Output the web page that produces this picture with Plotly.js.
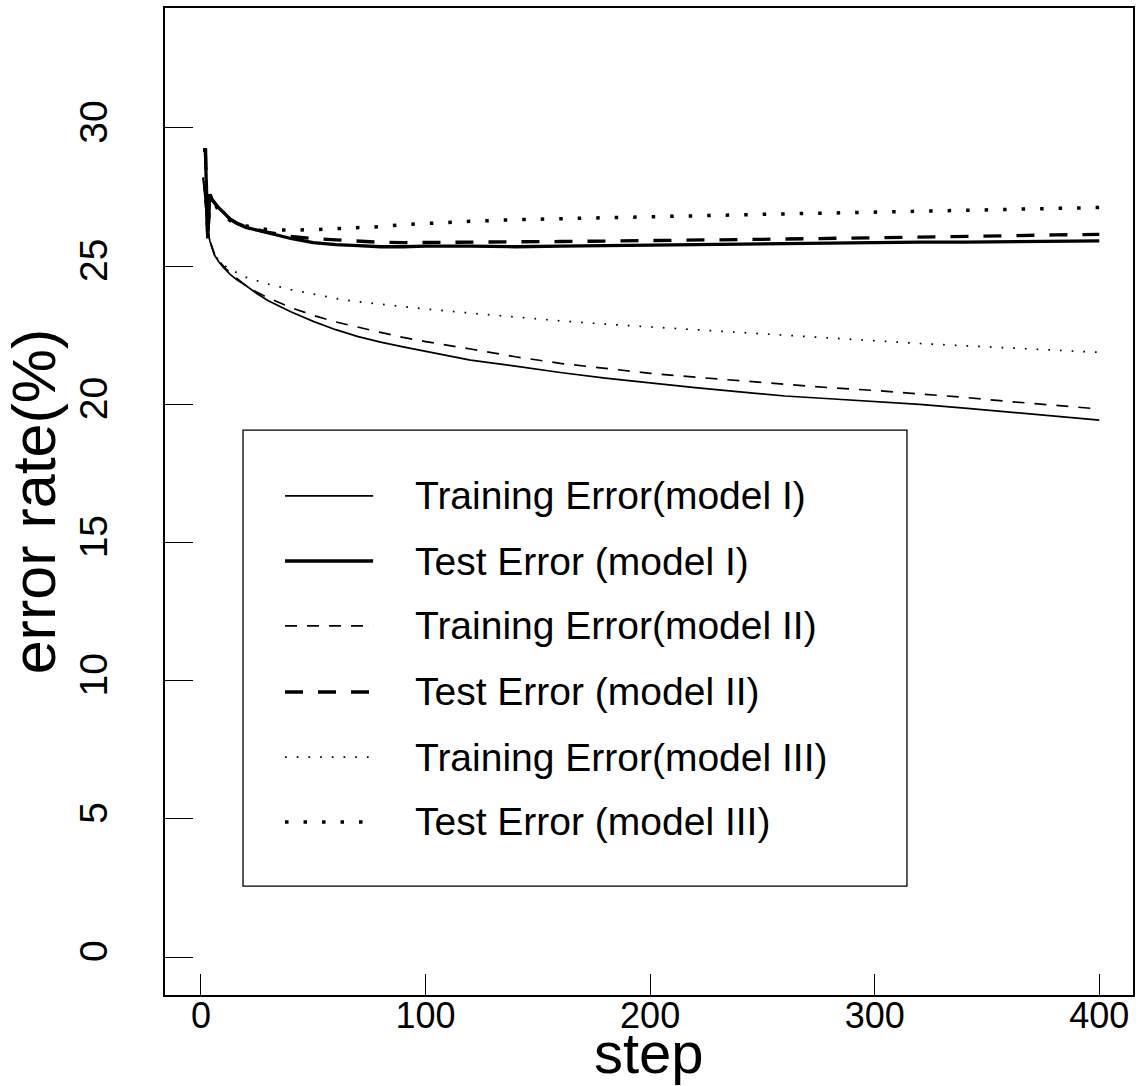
<!DOCTYPE html>
<html>
<head>
<meta charset="utf-8">
<script src="https://cdn.plot.ly/plotly-3.0.1.min.js"></script>
<style>
html,body{margin:0;padding:0;background:#fff;}
#chart{width:1147px;height:1086px;}
</style>
</head>
<body>
<div id="chart"></div>
<script>
// ---- data ----
var steps = [1,2,3,4,5,6,8,10,13,16,20,25,30,40,50,60,70,80,90,100,120,140,160,180,200,220,240,260,280,300,320,340,360,380,400];

var trainI = [28.2,27.2,26.3,25.9,25.6,25.4,25.15,24.95,24.7,24.5,24.3,24.0,23.75,23.35,23.0,22.7,22.45,22.25,22.08,21.92,21.6,21.38,21.15,20.95,20.77,20.6,20.45,20.3,20.2,20.1,20.0,19.86,19.72,19.57,19.43];
var testI = [29.2,29.2,26.0,27.6,27.4,27.3,27.1,26.95,26.7,26.55,26.4,26.3,26.2,26.0,25.85,25.78,25.74,25.7,25.7,25.72,25.72,25.7,25.72,25.74,25.77,25.78,25.8,25.82,25.85,25.86,25.87,25.87,25.88,25.9,25.91];
var trainII = [28.2,27.2,26.3,25.9,25.65,25.45,25.2,25.0,24.75,24.55,24.3,24.05,23.85,23.5,23.22,22.98,22.78,22.6,22.42,22.27,22.0,21.72,21.48,21.3,21.12,20.98,20.85,20.72,20.6,20.5,20.38,20.25,20.1,19.97,19.83];
var testII = [29.2,29.2,26.0,27.6,27.4,27.3,27.05,26.9,26.7,26.55,26.42,26.32,26.22,26.08,26.0,25.95,25.9,25.86,25.85,25.85,25.86,25.88,25.89,25.9,25.92,25.94,25.96,25.98,26.0,26.02,26.05,26.08,26.1,26.13,26.15];
var trainIII = [28.2,27.2,26.3,25.9,25.65,25.45,25.2,25.05,24.88,24.75,24.6,24.47,24.35,24.15,23.98,23.83,23.71,23.62,23.53,23.45,23.3,23.15,23.02,22.9,22.8,22.7,22.6,22.48,22.38,22.3,22.2,22.12,22.04,21.96,21.88];
var testIII = [29.2,29.2,26.0,27.6,27.4,27.25,27.0,26.85,26.65,26.52,26.45,26.38,26.32,26.3,26.32,26.35,26.38,26.43,26.5,26.55,26.62,26.68,26.72,26.76,26.8,26.83,26.86,26.89,26.92,26.95,26.98,27.01,27.05,27.08,27.12];

var seriesNames = ["Training Error(model I)","Test Error (model I)","Training Error(model II)","Test Error (model II)","Training Error(model III)","Test Error (model III)"];
var xTicks = [0,100,200,300,400];
var yTicks = [0,5,10,15,20,25,30];
var xTitle = "step";
var yTitle = "error rate(%)";

// ---- styles ----
var styles = [
  {width:1.7, dash:"solid"},
  {width:3.3, dash:"solid"},
  {width:1.7, dash:"12px,10px"},
  {width:3.3, dash:"18px,15px"},
  {width:1.7, dash:"1.7px,10px"},
  {width:3.5, dash:"3.5px,15px"}
];
var seriesY = [trainI, testI, trainII, testII, trainIII, testIII];

var traces = seriesY.map(function(ys, i){
  return {
    x: steps, y: ys, name: seriesNames[i], type: "scatter", mode: "lines",
    line: {color: "#000", width: styles[i].width, dash: styles[i].dash},
    showlegend: false, hoverinfo: "skip"
  };
});

// ---- manual R-style legend (paper coordinates) ----
var FONT = "Liberation Sans, Arial, Helvetica, sans-serif";
var legRowsY = [0.5056,0.4397,0.3739,0.3070,0.2411,0.1753];
var shapes = [{
  type:"rect", xref:"paper", yref:"paper",
  x0:0.0806, x1:0.7665, y0:0.1104, y1:0.5724,
  line:{color:"#000", width:1.3}, fillcolor:"rgba(0,0,0,0)"
}];
var annotations = [];
legRowsY.forEach(function(yy, i){
  shapes.push({
    type:"line", xref:"paper", yref:"paper",
    x0:0.124, x1:0.215, y0:yy, y1:yy,
    line:{color:"#000", width:styles[i].width, dash:styles[i].dash}
  });
  annotations.push({
    xref:"paper", yref:"paper", x:0.2565, y:yy,
    xanchor:"left", yanchor:"middle", showarrow:false,
    text: seriesNames[i],
    font:{family:FONT, size:39, color:"#000"}
  });
});
// x-axis title placed like R's mtext under the tick labels
annotations.push({
  xref:"paper", yref:"paper", x:0.5, y:0, xanchor:"center", yanchor:"bottom",
  yshift:-92, showarrow:false, text:xTitle,
  font:{family:FONT, size:58, color:"#000"}
});

var layout = {
  width:1147, height:1086,
  paper_bgcolor:"#fff", plot_bgcolor:"#fff",
  margin:{l:165, r:14, t:8, b:91, pad:0},
  showlegend:false,
  font:{family:FONT, color:"#000"},
  xaxis:{
    range:[-16,415], tickvals:xTicks, ticktext:xTicks.map(String),
    ticks:"inside", ticklen:21, tickwidth:1, tickcolor:"#000",
    showline:true, linecolor:"#000", linewidth:2, mirror:true,
    showgrid:false, zeroline:false, automargin:false,
    ticklabelstandoff:-12,
    tickfont:{family:FONT, size:36, color:"#000"},
    title:{text:""}
  },
  yaxis:{
    range:[-1.375,34.34], tickvals:yTicks, ticktext:yTicks.map(String),
    ticks:"inside", ticklen:28, tickwidth:1, tickcolor:"#000",
    showline:true, linecolor:"#000", linewidth:2, mirror:true,
    showgrid:false, zeroline:false, automargin:false,
    tickangle:-90, ticklabelstandoff:40,
    tickfont:{family:FONT, size:39, color:"#000"},
    title:{text:yTitle, font:{family:FONT, size:61, color:"#000"}, standoff:0}
  },
  shapes:shapes,
  annotations:annotations
};

Plotly.newPlot("chart", traces, layout, {displayModeBar:false, staticPlot:true});
</script>
</body>
</html>
